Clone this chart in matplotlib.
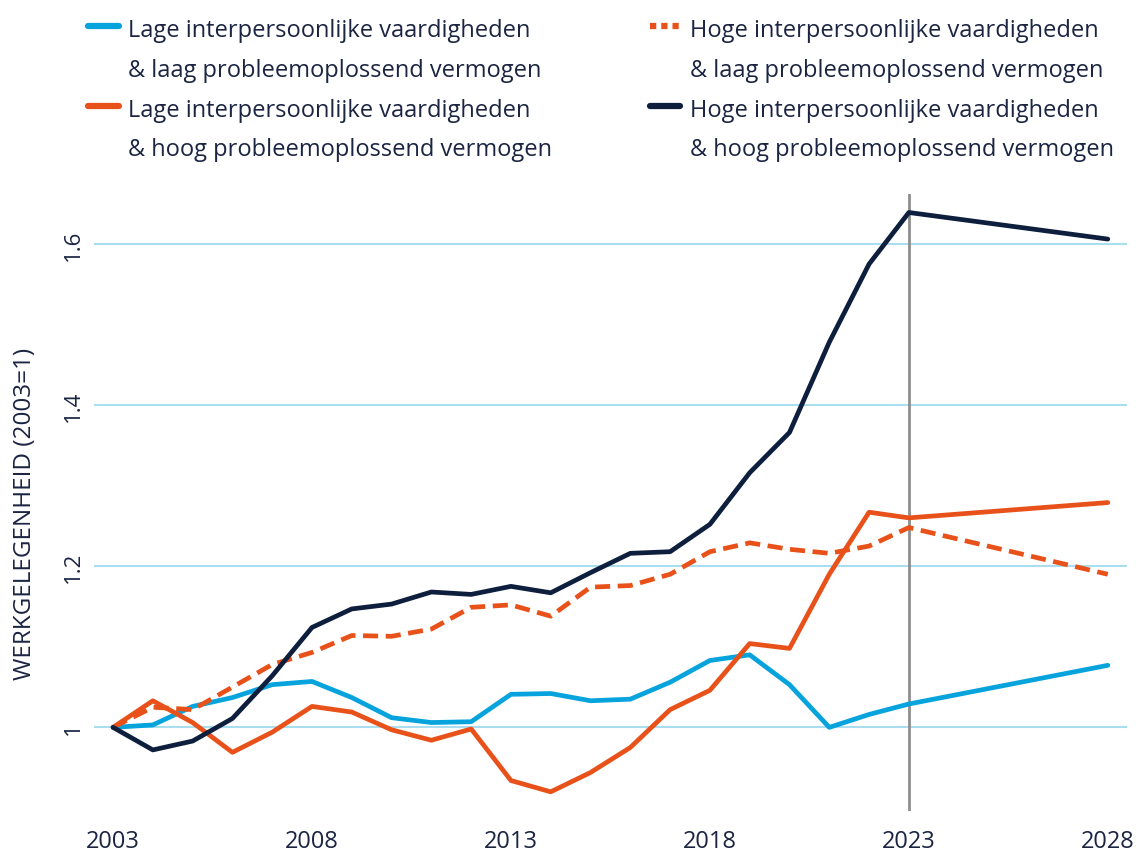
import matplotlib.pyplot as plt
from matplotlib.lines import Line2D

plt.rcParams['font.family'] = ['Open Sans', 'DejaVu Sans']

# Data
years = [2003, 2004, 2005, 2006, 2007, 2008, 2009, 2010, 2011, 2012, 2013,
         2014, 2015, 2016, 2017, 2018, 2019, 2020, 2021, 2022, 2023, 2028]

laag_laag = [1.000, 1.003, 1.026, 1.037, 1.053, 1.057, 1.037, 1.012, 1.006, 1.007, 1.041,
             1.042, 1.033, 1.035, 1.056, 1.083, 1.090, 1.053, 1.000, 1.016, 1.029, 1.077]
laag_hoog = [1.000, 1.033, 1.006, 0.969, 0.994, 1.026, 1.019, 0.997, 0.984, 0.998, 0.934,
             0.920, 0.944, 0.975, 1.022, 1.046, 1.104, 1.098, 1.190, 1.267, 1.260, 1.279]
hoog_laag = [1.000, 1.025, 1.022, 1.050, 1.078, 1.093, 1.114, 1.113, 1.122, 1.149, 1.152,
             1.138, 1.174, 1.176, 1.190, 1.218, 1.229, 1.221, 1.216, 1.225, 1.248, 1.190]
hoog_hoog = [1.000, 0.972, 0.983, 1.011, 1.064, 1.124, 1.147, 1.153, 1.168, 1.165, 1.175,
             1.167, 1.192, 1.216, 1.218, 1.252, 1.316, 1.366, 1.478, 1.575, 1.639, 1.606]

labels = ['Lage interpersoonlijke vaardigheden\n& laag probleemoplossend vermogen',
          'Lage interpersoonlijke vaardigheden\n& hoog probleemoplossend vermogen',
          'Hoge interpersoonlijke vaardigheden\n& laag probleemoplossend vermogen',
          'Hoge interpersoonlijke vaardigheden\n& hoog probleemoplossend vermogen']

x_ticks = [2003, 2008, 2013, 2018, 2023, 2028]
y_ticks = [1.0, 1.2, 1.4, 1.6]
y_ticklabels = ['1', '1.2', '1.4', '1.6']

BLUE = '#07a3dc'
ORANGE = '#e8521a'
NAVY = '#0d1f3d'
GRID = '#a9def0'
TEXT = '#1b2542'

fig = plt.figure(figsize=(11.36, 8.54), dpi=100)
ax = fig.add_axes([0.0827, 0.049, 0.9093, 0.7227])

lw = 3.4
ax.plot(years, laag_laag, color=BLUE, lw=lw, solid_capstyle='round', zorder=3)
ax.plot(years, laag_hoog, color=ORANGE, lw=lw, solid_capstyle='round', zorder=3)
ax.plot(years, hoog_laag, color=ORANGE, lw=lw, dashes=(3.2, 1.6), zorder=3)
ax.plot(years, hoog_hoog, color=NAVY, lw=lw, solid_capstyle='round', zorder=4)

ax.axvline(2023, color='#8e8e8e', lw=2, zorder=2)

ax.set_xlim(2002.52, 2028.48)
ax.set_ylim(0.896, 1.662)
ax.set_yticks(y_ticks)
ax.set_yticklabels(y_ticklabels, rotation=90, va='center')
ax.set_xticks(x_ticks)
ax.tick_params(length=0, colors=TEXT)
ax.tick_params(axis='x', labelsize=17, pad=13)
ax.tick_params(axis='y', labelsize=16, pad=7)
ax.grid(axis='y', color=GRID, lw=1.5)
ax.set_axisbelow(True)
for s in ax.spines.values():
    s.set_visible(False)
ax.set_ylabel('WERKGELEGENHEID (2003=1)', fontsize=17.5, color=TEXT)
ax.yaxis.set_label_coords(-0.055, 0.483)

# manual legend, two columns, handle level with the first text line
legend_items = [
    (0.0775, 0.968, dict(color=BLUE), labels[0]),
    (0.0775, 0.8747, dict(color=ORANGE), labels[1]),
    (0.572, 0.968, dict(color=ORANGE, dashes=(1.0, 0.8)), labels[2]),
    (0.572, 0.8747, dict(color=NAVY), labels[3]),
]
for hx, hy, style, text in legend_items:
    fig.add_artist(Line2D([hx, hx + 0.027], [hy, hy], lw=4.5,
                          solid_capstyle='round', transform=fig.transFigure, **style))
    fig.text(hx + 0.035, hy + 0.0098, text, fontsize=17, color=TEXT,
             va='top', ha='left', linespacing=1.87)

fig.savefig('out.png', dpi=100)
